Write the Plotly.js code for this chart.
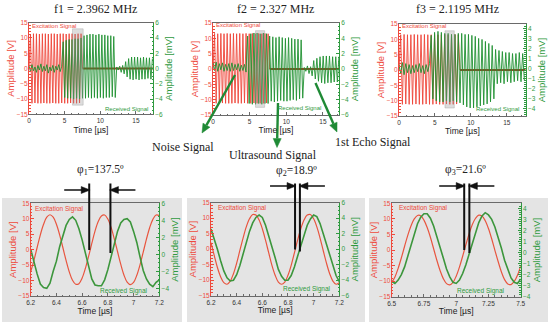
<!DOCTYPE html>
<html><head><meta charset="utf-8">
<script src="https://cdn.plot.ly/plotly-3.0.1.min.js"></script>
<style>html,body{margin:0;padding:0;background:#fff;}#chart{width:550px;height:328px;}</style>
</head><body><div id="chart"></div>
<script>
// ---------------- DATA ----------------
const freqs = [2.3962, 2.327, 2.1195];               // MHz, from panel titles
const panelTitles = ['f1 = 2.3962 MHz', 'f2 = 2.327 MHz', 'f3 = 2.1195 MHz'];
const recordEnd = [17.4, 17.2, 17.64];                // µs, end of recording (top panels)

// excitation burst: successive half-cycle extremes [V]
const exc1 = [0, 11.3,-11.4,11.4,-11.3,11.4,-11.4,11.3,-11.4,11.4,-11.3, 11.4,-11.4,11.3,-11.4,11.4,-11.3,11.4,-11.4,11.3,-11.4, 11.4,-11.3,11.4,-11.4,11.3,-11.4,11.4,-11.3,11.4,-11.4, 11.3,-11.4,11.4,-11.3,11.4, 0];
const exc2 = [0, 11.6,-11.2,11.5,-11.2,11.6,-11.1,11.5,-11.2,11.6,-11.2, 11.5,-11.2,11.6,-11.1,11.5,-11.2,11.6,-11.2,11.5,-11.1, 11.6,-11.2,11.5,-11.2,11.6,-11.1,11.5,-11.2,11.6,-11.2, 11.5,-11.2,11.6,-11.1,11.5, 0];
const exc3 = [0, 11.5,-11.2,11.6,-11.1,11.5,-11.2,11.5,-11.2,11.6,-11.1, 11.5,-11.2,11.5,-11.2,11.6,-11.1,11.5,-11.2,11.5,-11.2, 11.6,-11.1,11.5,-11.2,11.5,-11.2,11.6,-11.1,11.5,-11.2, 11.5,-11.2,11.6,-11.1,11.5, 0];

// received signal: successive half-cycle extremes [mV]
const rec1 = [0.3,-0.4,0.5,-0.3,0.2,-0.5,0.4,-0.2,0.6,-0.4, 0.3,-0.3,0.5,-0.6,0.2,-0.3,0.4,-0.5,0.3,-0.2, 0.5,-0.4,0.3,
  3.5,-3.8,3.7,-3.9,3.8,-3.9,3.8,-4.0,3.9,-3.9, 3.9,-4.0,4.0,-3.9,4.3,-3.9,4.4,-3.8,4.5,-3.9, 4.5,-3.8,4.4,-3.9,4.5,-3.8,4.4,-3.9,4.4,-3.8, 4.3,-3.8,4.3,-3.7,4.2,-3.8,
  0.2,-0.2,0.3,-0.5,0.4,
  -0.7,0.9,-1.1,1.3,-1.4,1.5,-1.5,1.5,-1.4,1.5, -1.5,1.4,-1.4,1.5,-1.4,1.4,-1.3,1.4,-1.4,1.3];
const rec2 = [0.8,-0.2,0.9,-0.3,0.7,-0.1,0.8,-0.3,0.6,-0.2, 0.7,-0.3,0.8,-0.2,0.6,-0.1,0.7,-0.3,0.5,-0.2, 0.6,-0.4,
  4.3,-4.5,4.6,-4.6,4.7,-4.6,4.7,-4.5,4.6,-4.6, 4.7,-4.5,4.6,-4.5,4.3,-4.2,4.2,-4.3,4.1,-4.2, 4.2,-4.1,4.1,-4.2,4.0,-4.2,4.1,-4.1,4.0,-4.0, 3.9,-4.1,3.9,-3.9,3.8,-3.8,
  0.2,-0.3,0.4,-0.6,0.3,
  -0.9,1.1,-1.3,1.4,-1.6,1.6,-1.8,1.7,-1.9,1.7, -1.8,1.7,-1.8,1.6,-1.7,1.6,-1.7,1.6];
const rec3 = [0.4,-0.5,0.6,-0.6,0.5,-0.4,0.4,-0.5,0.3,-0.4, 0.4,-0.3,0.5,-0.4,0.3,-0.5,0.4,-0.3,0.5,
  3.3,-3.0,3.6,-3.2,3.7,-3.3,3.6,-3.3,3.5,-3.2, 3.5,-3.3,3.4,-3.2,3.4,-3.3,3.5,-3.4, 3.5,-3.6,3.4,-3.8,3.4,-3.9,3.3,-3.9,3.2,-3.8,3.0,-3.7, 2.9,-3.6,2.7,-3.5,2.5,-3.3,2.3,-3.0,
  1.9,-1.5,1.8,-1.4,1.7,-1.5,1.6,-1.3,1.6,-1.4, 1.5,-1.3,1.5,-1.2,1.6,-1.3,1.5,-1.2];

// zoom windows marked in top panels
const zoomWinX = [[6.1, 7.6], [5.8, 7.05], [6.4, 7.7]];
const zoomWinY = [[-12, 13], [-12.5, 12.5], [-12.4, 12.8]];

// zoomed signals (bottom panels), sampled every 0.025 µs
const zoomStart = [6.2, 6.2, 6.5];
const sampleStep = 0.025;
const excZ1 = [-7.2,-3.5,0.7,4.8,8.2,10.5,11.3,10.5,8.2,4.8, 0.7,-3.5,-7.2,-9.9,-11.2,-11.0,-9.2,-6.1,-2.2,2.0, 6.0,9.1,10.9,11.2,9.9,7.2,3.5,-0.6,-4.7,-8.2, -10.5,-11.3,-10.6,-8.3,-4.9,-0.8,3.4,7.1,9.8,11.2, 11.0];
const excZ2 = [2.1,-2.0,-5.9,-8.9,-10.8,-11.3,-10.3,-7.9,-4.5,-0.4, 3.6,7.2,9.8,11.2,11.0,9.4,6.6,2.9,-1.2,-5.2, -8.4,-10.6,-11.3,-10.6,-8.4,-5.2,-1.2,2.9,6.6,9.4, 11.0,11.2,9.8,7.2,3.6,-0.5,-4.5,-7.9,-10.3,-11.3, -10.8];
const excZ3 = [-10.5,-8.7,-5.9,-2.5,1.2,4.8,7.8,10.0,11.1,11.0, 9.6,7.2,4.1,0.4,-3.3,-6.6,-9.2,-10.8,-11.2,-10.4, -8.4,-5.5,-2.0,1.7,5.2,8.2,10.2,11.2,10.9,9.4, 6.9,3.6,-0.1,-3.7,-7.0,-9.5,-10.9,-11.1,-10.1,-8.1, -5.1];
const recZ1 = [0.6,-1.0,-2.3,-3.5,-3.9,-4.0,-3.4,-2.0,-0.8,0.9, 2.3,3.4,4.1,4.4,4.0,3.0,1.7,0.2,-1.4,-2.9, -3.6,-3.7,-3.7,-3.0,-1.8,-0.3,1.3,2.7,3.7,4.1, 4.2,3.8,2.7,1.4,-0.3,-1.9,-2.9,-3.5,-3.8,-3.3, -3.0];
const recZ2 = [2.6,1.4,0.0,-1.5,-2.8,-3.7,-4.1,-4.0,-3.3,-2.1, -0.6,0.9,2.3,3.4,4.1,4.4,4.1,3.1,1.8,0.3, -1.1,-2.6,-3.5,-4.0,-4.0,-3.4,-2.3,-0.9,0.5,1.9, 3.1,3.9,4.4,4.2,3.3,2.0,0.6,-0.9,-2.3,-3.4, -4.2];
const recZ3 = [-2.6,-2.8,-2.5,-2.0,-1.3,-0.3,0.8,1.7,2.6,3.2, 3.5,3.5,3.1,2.4,1.5,0.5,-0.5,-1.5,-2.2,-2.7, -2.8,-2.5,-1.9,-1.1,-0.1,0.9,1.9,2.7,3.3,3.6, 3.4,3.0,2.3,1.4,0.4,-0.7,-1.6,-2.3,-2.7,-2.8, -2.4];

const phaseLabels = ['φ<sub>1</sub>=137.5º', 'φ<sub>2</sub>=18.9º', 'φ<sub>3</sub>=21.6º'];
const phaseMarks = [[6.655, 6.82], [6.855, 6.893], [7.062, 7.102]];   // µs, zero crossings
const signalLabels = ['Noise Signal', 'Ultrasound Signal', '1st Echo Signal'];

const xRangesTop = [[0, 17.4], [0, 17.2], [0, 17.64]];
const xRangesBottom = [[6.2, 7.2], [6.2, 7.2], [6.5, 7.5]];
const xDtickBottom = [0.2, 0.2, 0.25];
const rightRanges = [[-6, 6], [-6, 6], [-4.7, 4.43], [-4.9, 6], [-6, 6], [-4, 4.45]];
const rightDtick = [2, 2, 1, 2, 2, 1];

// ---------------- STYLE / LAYOUT ----------------
const W = 550, H = 328;
const px = x => x / W, py = y => 1 - y / H;
const boxes = [
  {l: 29, r: 153, t: 22.7, b: 114.3},
  {l: 213, r: 339, t: 23, b: 115},
  {l: 399, r: 525.7, t: 24, b: 116},
  {l: 30.7, r: 159.3, t: 203.3, b: 296},
  {l: 211, r: 339.3, t: 202.7, b: 295.7},
  {l: 391.7, r: 520.7, t: 203.3, b: 296.7}];
const SANS = 'Liberation Sans, Arial, sans-serif';
const SERIF = 'Liberation Serif, Times New Roman, serif';
const RED = '#ee4a3c', GREEN = '#2f9a40', AX = '#6a6a6a';

const xid = i => i === 1 ? 'x' : 'x' + i;
const yid = i => i === 1 ? 'y' : 'y' + i;
const xkey = i => i === 1 ? 'xaxis' : 'xaxis' + i;
const ykey = i => i === 1 ? 'yaxis' : 'yaxis' + i;

const layout = {
  width: W, height: H, autosize: false,
  margin: {l: 0, r: 0, t: 0, b: 0},
  paper_bgcolor: '#ffffff', plot_bgcolor: 'rgba(0,0,0,0)',
  showlegend: false, shapes: [], annotations: []
};

for (let i = 1; i <= 6; i++) {
  const b = boxes[i - 1];
  const top = i <= 3;
  const xr = top ? xRangesTop[i - 1] : xRangesBottom[i - 4];
  layout[xkey(i)] = {
    domain: [px(b.l), px(b.r)], range: xr, anchor: yid(i),
    showline: true, linecolor: AX, linewidth: 1, mirror: true,
    ticks: 'inside', ticklen: 3, tickcolor: AX,
    dtick: top ? 5 : xDtickBottom[i - 4], tick0: 0,
    minor: {ticks: 'inside', ticklen: 1.5, tickcolor: AX},
    tickfont: {family: SANS, size: 6.5, color: '#333'},
    showgrid: false, zeroline: false,
    title: {text: 'Time [µs]', font: {family: SANS, size: 8.5, color: '#222'}, standoff: top ? 3 : 2}
  };
  layout[ykey(i)] = {
    domain: [py(b.b), py(b.t)], range: [-15, 15], dtick: 5, anchor: xid(i),
    showline: true, linecolor: RED, linewidth: 1,
    ticks: 'inside', ticklen: 3, tickcolor: RED, ticklabelstandoff: -1,
    minor: {ticks: 'inside', ticklen: 1.5, tickcolor: RED},
    tickfont: {family: SANS, size: 6.5, color: RED},
    showgrid: false, zeroline: false,
    title: {text: 'Amplitude [V]', font: {family: SANS, size: 9.5, color: RED}, standoff: 0}
  };
  layout[ykey(i + 6)] = {
    overlaying: yid(i), side: 'right', anchor: xid(i),
    range: rightRanges[i - 1], dtick: rightDtick[i - 1], tick0: 0,
    showline: true, linecolor: GREEN, linewidth: 1,
    ticks: 'inside', ticklen: 3, tickcolor: GREEN,
    minor: {ticks: 'inside', ticklen: 1.5, tickcolor: GREEN},
    tickfont: {family: SANS, size: 6.5, color: GREEN},
    showgrid: false, zeroline: false,
    title: {text: 'Amplitude [mV]', font: {family: SANS, size: 9.5, color: GREEN}, standoff: 1.5}
  };
}

const traces = [];
const excTop = [exc1, exc2, exc3], recTop = [rec1, rec2, rec3];
for (let p = 0; p < 3; p++) {
  const i = p + 1, h = 0.5 / freqs[p];
  const ex = excTop[p].map((_, k) => k * h);
  const rx = recTop[p].map((_, k) => k * h);
  traces.push({x: ex, y: excTop[p], xaxis: xid(i), yaxis: yid(i), mode: 'lines',
    line: {color: 'rgba(238,70,58,0.9)', width: 1}, name: 'Excitation Signal', hoverinfo: 'skip'});
  traces.push({x: rx, y: recTop[p], xaxis: xid(i), yaxis: yid(i + 6), mode: 'lines',
    line: {color: 'rgba(32,145,50,0.9)', width: 1}, name: 'Received Signal', hoverinfo: 'skip'});
  traces.push({x: [ex[ex.length - 1], recordEnd[p]], y: [0, 0], xaxis: xid(i), yaxis: yid(i), mode: 'lines',
    line: {color: '#a63a22', width: 1.8}, name: 'Excitation Signal', hoverinfo: 'skip'});
  layout.shapes.push({type: 'rect', xref: xid(i), yref: yid(i),
    x0: zoomWinX[p][0], x1: zoomWinX[p][1], y0: zoomWinY[p][0], y1: zoomWinY[p][1],
    fillcolor: 'rgba(150,150,150,0.32)', line: {width: 0.6, color: 'rgba(150,150,150,0.6)'}, layer: 'above'});
}
const excBot = [excZ1, excZ2, excZ3], recBot = [recZ1, recZ2, recZ3];
for (let p = 0; p < 3; p++) {
  const i = p + 4;
  const tx = excBot[p].map((_, k) => zoomStart[p] + k * sampleStep);
  traces.push({x: tx, y: excBot[p], xaxis: xid(i), yaxis: yid(i), mode: 'lines',
    line: {color: '#e8553f', width: 1.2, shape: 'spline'}, name: 'Excitation Signal', hoverinfo: 'skip'});
  traces.push({x: tx, y: recBot[p], xaxis: xid(i), yaxis: yid(i + 6), mode: 'lines',
    line: {color: '#3c963c', width: 1.6}, name: 'Received Signal', hoverinfo: 'skip'});
}

// grey backgrounds of bottom panels
[[2, 182], [187, 365], [369, 548]].forEach(r => layout.shapes.push({
  type: 'rect', xref: 'paper', yref: 'paper', x0: px(r[0]), x1: px(r[1]), y0: py(322), y1: py(198),
  fillcolor: '#e4e4e4', line: {width: 0}, layer: 'below'}));

const A = layout.annotations;
const center = {xanchor: 'center', yanchor: 'middle', showarrow: false, xref: 'paper', yref: 'paper'};
// panel titles
[[95, 9.5], [275, 9.5], [457, 9.5]].forEach((c, k) => A.push(Object.assign({
  text: panelTitles[k], x: px(c[0]), y: py(c[1]), font: {family: SERIF, size: 12, color: '#222'}}, center)));
// in-plot legend labels
const excPos = [[30, 25.5], [214, 25.3], [400, 26.3], [33, 208.8], [216, 208.3], [397, 208.3]];
const recPos = [[150, 108.7], [323, 108], [521, 108.7], [150, 291], [333, 288.5], [507, 290.7]];
for (let k = 0; k < 6; k++) {
  const fs = k < 3 ? 6 : 6.5;
  A.push({text: 'Excitation Signal', x: px(excPos[k][0]), y: py(excPos[k][1]), xref: 'paper', yref: 'paper',
    xanchor: 'left', yanchor: 'middle', showarrow: false, font: {family: SANS, size: fs, color: RED}});
  A.push({text: 'Received Signal', x: px(recPos[k][0]), y: py(recPos[k][1]), xref: 'paper', yref: 'paper',
    xanchor: 'right', yanchor: 'middle', showarrow: false, font: {family: SANS, size: fs, color: GREEN}});
}

// arrow helper (pixel coordinates -> paper shapes), head at (x1,y1)
function arrowShapes(x0, y0, x1, y1, color, w, hl, hw) {
  const dx = x1 - x0, dy = y1 - y0, L = Math.hypot(dx, dy), ux = dx / L, uy = dy / L;
  const bx = x1 - ux * hl, by = y1 - uy * hl;
  const p1 = [bx - uy * hw / 2, by + ux * hw / 2], p2 = [bx + uy * hw / 2, by - ux * hw / 2];
  return [
    {type: 'line', xref: 'paper', yref: 'paper', x0: px(x0), y0: py(y0), x1: px(bx), y1: py(by),
      line: {color: color, width: w}, layer: 'above'},
    {type: 'path', xref: 'paper', yref: 'paper', fillcolor: color, line: {color: color, width: 0.5}, layer: 'above',
      path: 'M' + px(x1) + ',' + py(y1) + ' L' + px(p1[0]) + ',' + py(p1[1]) + ' L' + px(p2[0]) + ',' + py(p2[1]) + ' Z'}];
}
// green pointer arrows and their labels
[[235, 75, 202, 133], [278, 103, 277, 147.5], [315.5, 83, 337, 132]].forEach(a =>
  layout.shapes.push(...arrowShapes(a[0], a[1], a[2], a[3], '#1f8a35', 2.4, 9, 8)));
[[183, 147], [273, 155], [373, 142]].forEach((c, k) => A.push(Object.assign({
  text: signalLabels[k], x: px(c[0]), y: py(c[1]), font: {family: SERIF, size: 12, color: '#222'}}, center)));

// phase annotations
const phaseLabelPos = [[100, 170], [296, 171], [465, 170]];
const hArrowY = [190, 186, 186];
const vLineBottom = [[250, 253], [249.5, 251.5], [250, 253]];
for (let p = 0; p < 3; p++) {
  const i = p + 4, b = boxes[i - 1], xr = xRangesBottom[p];
  const dpp = (xr[1] - xr[0]) / (b.r - b.l);            // data units per pixel
  A.push(Object.assign({text: phaseLabels[p], x: px(phaseLabelPos[p][0]), y: py(phaseLabelPos[p][1]),
    font: {family: SERIF, size: 11.5, color: '#222'}}, center));
  phaseMarks[p].forEach((m, j) => {
    layout.shapes.push({type: 'line', xref: xid(i), yref: 'paper', x0: m, x1: m,
      y0: py(vLineBottom[p][j]), y1: py(183.5), line: {color: '#111', width: 2}, layer: 'above'});
    const s = j === 0 ? -1 : 1;
    const yA = hArrowY[p];
    layout.shapes.push({type: 'line', xref: xid(i), yref: 'paper', x0: m + s * 25 * dpp, x1: m + s * 7 * dpp,
      y0: py(yA), y1: py(yA), line: {color: '#111', width: 1.4}, layer: 'above'});
    layout.shapes.push({type: 'path', xref: xid(i), yref: 'paper', fillcolor: '#111',
      line: {color: '#111', width: 0.5}, layer: 'above',
      path: 'M' + (m - s * 0.9 * dpp) + ',' + py(yA) + ' L' + (m + s * 8 * dpp) + ',' + py(yA - 3.5) +
            ' L' + (m + s * 8 * dpp) + ',' + py(yA + 3.5) + ' Z'});
  });
}

Plotly.newPlot('chart', traces, layout, {displayModeBar: false, staticPlot: true});
</script>
</body></html>
